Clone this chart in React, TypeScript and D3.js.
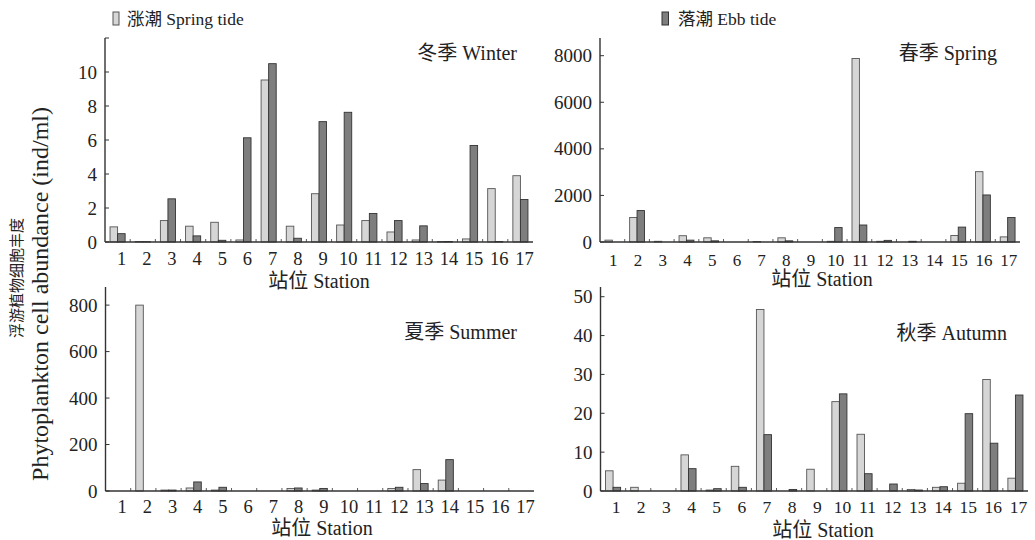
import React from 'react';
import * as d3 from 'd3';

// ---------- data ----------
const stations = ['1', '2', '3', '4', '5', '6', '7', '8', '9', '10', '11', '12', '13', '14', '15', '16', '17'];
const seriesKeys = ['spring', 'ebb'];
const seriesLabels = ['涨潮 Spring tide', '落潮 Ebb tide'];

const winterSpringTide = [0.89, 0.03, 1.26, 0.93, 1.16, 0.12, 9.53, 0.93, 2.84, 1.0, 1.26, 0.59, 0.12, 0.03, 0.18, 3.14, 3.9];
const winterEbbTide = [0.49, 0.02, 2.54, 0.36, 0.1, 6.13, 10.49, 0.22, 7.08, 7.63, 1.68, 1.26, 0.95, 0.03, 5.68, 0.03, 2.5];

const springSpringTide = [80, 1050, 30, 270, 180, 0, 20, 180, 0, 30, 7880, 30, 0, 0, 280, 3020, 220];
const springEbbTide = [0, 1350, 0, 80, 50, 0, 0, 50, 0, 620, 730, 70, 30, 0, 640, 2020, 1050];

const summerSpringTide = [0, 800, 4, 13, 4, 0, 0, 11, 4, 0, 0, 11, 92, 47, 0, 0, 0];
const summerEbbTide = [0, 0, 4, 39, 16, 0, 0, 13, 11, 0, 0, 16, 32, 135, 0, 0, 0];

const autumnSpringTide = [5.2, 0.95, 0, 9.3, 0.25, 6.35, 46.7, 0, 5.6, 23.0, 14.6, 0, 0.4, 0.95, 2.0, 28.7, 3.3];
const autumnEbbTide = [0.95, 0, 0, 5.75, 0.6, 0.95, 14.5, 0.4, 0, 25.0, 4.45, 1.8, 0.25, 1.1, 19.9, 12.3, 24.7];

const winterTicks = [0, 2, 4, 6, 8, 10];
const springTicks = [0, 2000, 4000, 6000, 8000];
const summerTicks = [0, 200, 400, 600, 800];
const autumnTicks = [0, 10, 20, 30, 40, 50];

const seasonTitles = ['冬季 Winter', '春季 Spring', '夏季 Summer', '秋季 Autumn'];
const xAxisTitle = '站位 Station';
const yTitleZh = '浮游植物细胞丰度';
const yTitleEn = 'Phytoplankton cell abundance (ind/ml)';

// ---------- layout / style ----------
const FONT = "'Liberation Serif', 'Times New Roman', 'Noto Sans CJK SC', serif";
const TEXT = '#222';
const AXIS = '#333';
const FILLS = ['#d6d6d6', '#7e7e7e'];
const STROKES = ['#555', '#333'];

type PanelCfg = {
  title: string;
  a: number[];
  b: number[];
  ticks: number[];
  max: number;
  topTick: boolean;
  x0: number; x1: number; yTop: number; yBase: number;
  titleX: number; titleY: number;
  axTitleX: number; axTitleY: number;
  lblY: number; lblShift: number; lblSize: number;
};

const panels: PanelCfg[] = [
  { title: seasonTitles[0], a: winterSpringTide, b: winterEbbTide, ticks: winterTicks, max: 12, topTick: true,
    x0: 105, x1: 533, yTop: 38, yBase: 242, titleX: 517, titleY: 53, axTitleX: 319, axTitleY: 281, lblY: 259, lblShift: 4, lblSize: 18.5 },
  { title: seasonTitles[1], a: springSpringTide, b: springEbbTide, ticks: springTicks, max: 8760, topTick: false,
    x0: 600, x1: 1020, yTop: 38, yBase: 242, titleX: 997, titleY: 53, axTitleX: 822, axTitleY: 279, lblY: 260, lblShift: 1, lblSize: 17 },
  { title: seasonTitles[2], a: summerSpringTide, b: summerEbbTide, ticks: summerTicks, max: 878, topTick: false,
    x0: 105.5, x1: 534, yTop: 287, yBase: 491, titleX: 517, titleY: 332, axTitleX: 322, axTitleY: 528, lblY: 507, lblShift: 4, lblSize: 18.5 },
  { title: seasonTitles[3], a: autumnSpringTide, b: autumnEbbTide, ticks: autumnTicks, max: 52.5, topTick: false,
    x0: 600.5, x1: 1028, yTop: 287, yBase: 491, titleX: 1007, titleY: 333, axTitleX: 823, axTitleY: 530, lblY: 507, lblShift: 3, lblSize: 17.5 },
];

function Panel({ cfg }: { cfg: PanelCfg }) {
  const x = d3.scaleBand<string>().domain(stations).range([cfg.x0, cfg.x1]).paddingInner(0.4).paddingOuter(0.2);
  const xs = d3.scaleBand<string>().domain(seriesKeys).range([0, x.bandwidth()]);
  const y = d3.scaleLinear().domain([0, cfg.max]).range([cfg.yBase, cfg.yTop]);
  const step = x.step();
  const series = [cfg.a, cfg.b];
  const tickMarks = cfg.topTick ? [...cfg.ticks, cfg.max] : cfg.ticks;

  return (
    <g>
      {series.map((vals, si) =>
        stations.map((st, i) => {
          const v = vals[i];
          if (!(v > 0)) return null;
          const bx = (x(st) as number) + (xs(seriesKeys[si]) as number);
          const by = y(v);
          return (
            <rect key={`${si}-${st}`} x={bx} y={by} width={xs.bandwidth()} height={cfg.yBase - by}
              fill={FILLS[si]} stroke={STROKES[si]} strokeWidth={0.9} />
          );
        })
      )}
      {/* axes */}
      <line x1={cfg.x0} x2={cfg.x0} y1={cfg.yTop} y2={cfg.yBase} stroke={AXIS} strokeWidth={1.4} />
      <line x1={cfg.x0} x2={cfg.x1} y1={cfg.yBase} y2={cfg.yBase} stroke={AXIS} strokeWidth={1.4} />
      {tickMarks.map((t) => (
        <line key={`yt${t}`} x1={cfg.x0} x2={cfg.x0 + 4} y1={y(t)} y2={y(t)} stroke={AXIS} strokeWidth={1} />
      ))}
      {cfg.ticks.map((t) => (
        <text key={`yl${t}`} x={cfg.x0 - 8} y={y(t)} textAnchor="end" dominantBaseline="central"
          fontSize={19} fill={TEXT}>{t}</text>
      ))}
      {stations.slice(1).map((st, i) => (
        <line key={`xt${st}`} x1={cfg.x0 + step * (i + 1)} x2={cfg.x0 + step * (i + 1)} y1={cfg.yBase} y2={cfg.yBase - 3}
          stroke={AXIS} strokeWidth={0.8} />
      ))}
      {stations.map((st) => (
        <text key={`xl${st}`} x={(x(st) as number) + x.bandwidth() / 2 + cfg.lblShift} y={cfg.lblY}
          textAnchor="middle" dominantBaseline="central" fontSize={cfg.lblSize} fill={TEXT}>{st}</text>
      ))}
      <text x={cfg.axTitleX} y={cfg.axTitleY} textAnchor="middle" dominantBaseline="central" fontSize={20} fill={TEXT}>
        {xAxisTitle}
      </text>
      <text x={cfg.titleX} y={cfg.titleY} textAnchor="end" dominantBaseline="central" fontSize={20} fill={TEXT}>
        {cfg.title}
      </text>
    </g>
  );
}

export default function App() {
  return (
    <svg width={1035} height={540} viewBox="0 0 1035 540"
      style={{ position: 'absolute', left: 0, top: 0, background: '#fff', fontFamily: FONT }}>
      <rect x={0} y={0} width={1035} height={540} fill="#fff" />
      {/* legend */}
      <rect x={113} y={12} width={6} height={13} fill={FILLS[0]} stroke={STROKES[0]} strokeWidth={1} />
      <text x={127} y={19} dominantBaseline="central" fontSize={17.5} fill={TEXT}>{seriesLabels[0]}</text>
      <rect x={662} y={12} width={6.5} height={13} fill={FILLS[1]} stroke={STROKES[1]} strokeWidth={1} />
      <text x={678} y={19} dominantBaseline="central" fontSize={17.5} fill={TEXT}>{seriesLabels[1]}</text>
      {/* y axis title */}
      <text transform="translate(17,278) rotate(-90)" textAnchor="middle" dominantBaseline="central" fontSize={15} fill={TEXT}>
        {yTitleZh}
      </text>
      <text transform="translate(40,294) rotate(-90)" textAnchor="middle" dominantBaseline="central" fontSize={24} fill={TEXT}>
        {yTitleEn}
      </text>
      {panels.map((p, i) => <Panel key={i} cfg={p} />)}
    </svg>
  );
}
